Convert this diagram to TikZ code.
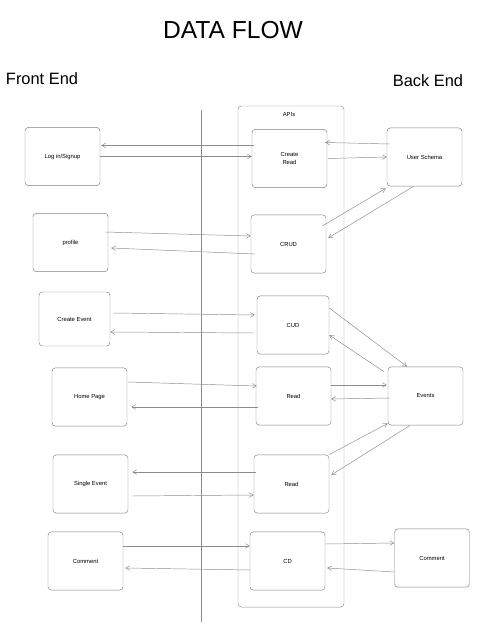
\documentclass[tikz,border=0pt]{standalone}
\usepackage{fontspec}
\setmainfont{Liberation Sans}
\usetikzlibrary{positioning,arrows.meta,calc}

\begin{document}
\begin{tikzpicture}[
    x=0.03cm, y=-0.03cm,
    box/.style={rectangle, rounded corners=3pt, draw=black!50, thin, minimum width=2.25cm, minimum height=1.75cm, align=center, font=\fontsize{5}{6}\selectfont},
    holder/.style={rectangle, rounded corners=3pt, draw=black!45, thin, minimum width=3.18cm, minimum height=15.03cm},
    arrow/.style={-{Straight Barb[length=1.2mm, width=1.4mm]}, draw=black!45, thin},
    divider/.style={draw=black!45, thin},
    heading/.style={font=\fontsize{14}{16}\selectfont},
]
\useasboundingbox (0,0) rectangle (482,626);

% Title
\node[font=\fontsize{21}{25}\selectfont] (title) at (233,30) {DATA FLOW};
\node[heading] (frontLabel) at (42,79) {Front End};
\node[heading] (backLabel) at (428,81) {Back End};

% ====== Divider ======
\coordinate (divTop) at (201,110);
\coordinate (divBot) at (201,622);
\draw[divider] (divTop) -- (divBot);

% ====== APIs ======
\node[holder] (apis) at (291,356.5) {};
\node[font=\fontsize{5}{6}\selectfont] (apisLabel) at (289,115) {APIs};

\node[box] (apiCR) at (289.5,158.5) {Create\\Read};
\node[box] (apiCRUD) at (288.5,244) {CRUD};
\node[box, minimum width=2.16cm] (apiCUD) at (293,325) {CUD};
\node[box] (apiRead) at (293.5,396) {Read};
\node[box] (apiReadB) at (291.5,484) {Read};
\node[box] (apiCD) at (287.5,561) {CD};

% ====== Front end ======
\node[box] (login) at (62.5,156.5) {Log in/Signup};
\node[box] (profile) at (70.5,242.5) {profile};
\node[box, minimum width=2.13cm, minimum height=1.62cm] (createEv) at (74.5,319) {Create Event};
\node[box] (home) at (89.5,397) {Home Page};
\node[box] (single) at (90.5,484) {Single Event};
\node[box] (commentL) at (85.5,561) {Comment};

% ====== Back end ======
\node[box] (userSchema) at (424.5,157) {User Schema};
\node[box] (events) at (425.5,396) {Events};
\node[box] (commentR) at (432,558) {Comment};

% ====== Front end <-> APIs ======
\draw[arrow] ($(apiCR.west)+(2,-13)$) -- ($(login.east)+(1,-11)$);
\draw[arrow] ($(login.east)+(0,0)$) -- ($(apiCR.west)+(0,-2)$);
\draw[arrow] ($(profile.east)+(-3,-10.5)$) -- ($(apiCRUD.west)+(0,-8)$);
\draw[arrow] ($(apiCRUD.west)+(4,10)$) -- ($(profile.east)+(3,5.5)$);
\draw[arrow] ($(createEv.east)+(3,-6)$) -- ($(apiCUD.west)+(-2,-10)$);
\draw[arrow] ($(apiCUD.west)+(-2,8)$) -- ($(createEv.east)+(0,13)$);
\draw[arrow] ($(home.east)+(1,-15)$) -- ($(apiRead.west)+(1,-10)$);
\draw[arrow] ($(apiRead.west)+(2,11)$) -- ($(home.east)+(4,10)$);
\draw[arrow] ($(apiReadB.west)+(2,-12)$) -- ($(single.east)+(4,-12)$);
\draw[arrow] ($(single.east)+(3,12)$) -- ($(apiReadB.west)+(0,11)$);
\draw[arrow] ($(commentL.east)+(0,-15)$) -- ($(apiCD.west)+(0,-15)$);
\draw[arrow] ($(apiCD.west)+(1,9)$) -- ($(commentL.east)+(2,7)$);

% ====== APIs <-> Back end ======
\draw[arrow] ($(userSchema.west)+(3,-13)$) -- ($(apiCR.east)+(-2,-16)$);
\draw[arrow] ($(apiCR.east)+(1,0)$) -- (userSchema.west);
\draw[arrow] ($(apiCRUD.east)+(-4,-18)$) -- ($(userSchema.south west)+(-1,2)$);
\draw[arrow] ($(userSchema.south)+(-11,0)$) -- ($(apiCRUD.east)+(2,-6)$);
\draw[arrow] ($(apiCUD.east)+(0,-17)$) -- ($(events.north)+(-18.5,0)$);
\draw[arrow] ($(events.north west)+(-4,5)$) -- ($(apiCUD.east)+(0,10)$);
\draw[arrow] ($(apiRead.east)+(0,-11)$) -- ($(events.west)+(-1,-11)$);
\draw[arrow] ($(events.west)+(2,2)$) -- ($(apiRead.east)+(0,3)$);
\draw[arrow] (apiReadB.north east) -- ($(events.south west)+(0,-2)$);
\draw[arrow] ($(events.south)+(-15.5,0)$) -- ($(apiReadB.east)+(2,-9)$);
\draw[arrow] ($(apiCD.east)+(0,-17)$) -- ($(commentR.west)+(0,-15)$);
\draw[arrow] ($(commentR.west)+(0,14)$) -- ($(apiCD.east)+(2,7)$);

\end{tikzpicture}
\end{document}
